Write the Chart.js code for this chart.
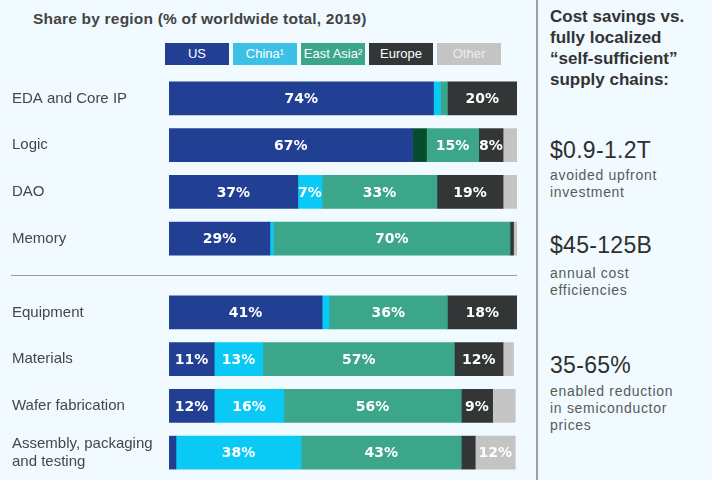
<!DOCTYPE html>
<html>
<head>
<meta charset="utf-8">
<script src="https://cdn.jsdelivr.net/npm/chart.js@4/dist/chart.umd.min.js"></script>
<style>
  body { margin: 0; background: #f0faff; font-family: "Liberation Sans", Arial, sans-serif; }
  #page { position: relative; width: 712px; height: 480px; overflow: hidden; background: #f0faff; }
  .title { position: absolute; left: 33px; top: 10px; font-size: 15.5px; font-weight: bold; color: #444; letter-spacing: 0.2px; }
  #legend { position: absolute; left: 165px; top: 43px; display: flex; gap: 4px; }
  #legend div { width: 64px; height: 22px; line-height: 22px; text-align: center; font-size: 13px; color: #fff; }
  canvas { position: absolute; }
  .divider { position: absolute; left: 11px; top: 275px; width: 506px; height: 1px; background: #9a9a9a; }
  .vline { position: absolute; left: 536px; top: 0; width: 2px; height: 480px; background: #a0a0a0; }
  .side { position: absolute; left: 550px; color: #333; }
  .side.head { top: 6px; font-size: 17px; font-weight: bold; line-height: 21px; color: #333; }
  .side.big { font-size: 23px; letter-spacing: 0.3px; color: #2f2f2f; }
  .side.small { font-size: 14px; line-height: 17px; letter-spacing: 0.7px; color: #5a5a5a; }
</style>
</head>
<body>
<div id="page">
  <div class="title">Share by region (% of worldwide total, 2019)</div>
  <div id="legend"></div>
  <canvas id="top" width="505" height="187" style="left:12px;top:75px"></canvas>
  <div class="divider"></div>
  <canvas id="bottom" width="505" height="187" style="left:12px;top:289px"></canvas>
  <div class="vline"></div>
  <div class="side head">Cost savings vs.<br>fully localized<br>“self-sufficient”<br>supply chains:</div>
  <div class="side big" style="top:137px">$0.9-1.2T</div>
  <div class="side small" style="top:167px">avoided upfront<br>investment</div>
  <div class="side big" style="top:232px">$45-125B</div>
  <div class="side small" style="top:265px">annual cost<br>efficiencies</div>
  <div class="side big" style="top:352px">35-65%</div>
  <div class="side small" style="top:383px">enabled reduction<br>in semiconductor<br>prices</div>
</div>
<script>
const categories = [
  "EDA and Core IP", "Logic", "DAO", "Memory",
  "Equipment", "Materials", "Wafer fabrication", ["Assembly, packaging", "and testing"]
];
const regions = ["US", "China¹", "East Asia²", "Europe", "Other"];

// bar widths (share of the full bar)
const usValues       = [76, 70, 37, 29, 44, 13, 13, 2];
const chinaValues    = [2, 4, 7, 1, 2, 14, 20, 36];
const eastAsiaValues = [2, 15, 33, 68, 34, 55, 51, 46];
const europeValues   = [20, 7, 19, 1, 20, 14, 9, 4];
const otherValues    = [0, 4, 4, 1, 0, 3, 6.5, 11.5];

// percentages printed on the bars
const usText       = ["74%", "67%", "37%", "29%", "41%", "11%", "12%", ""];
const chinaText    = ["", "", "7%", "", "", "13%", "16%", "38%"];
const eastAsiaText = ["", "15%", "33%", "70%", "36%", "57%", "56%", "43%"];
const europeText   = ["20%", "8%", "19%", "", "18%", "12%", "9%", ""];
const otherText    = ["", "", "", "", "", "", "", "12%"];

const barColors = ["#213f93", "#0bc9f5", "#3ca68a", "#323637", "#c4c4c4"];
const legendColors = ["#213f93", "#3dbfe6", "#3ca68a", "#323637", "#c4c4c4"];
const legendText = ["#fff", "#fff", "#fff", "#fff", "#ececec"];

const legend = document.getElementById("legend");
regions.forEach((r, i) => {
  const d = document.createElement("div");
  d.textContent = r;
  d.style.background = legendColors[i];
  d.style.color = legendText[i];
  legend.appendChild(d);
});

const barLabels = {
  id: "barLabels",
  afterDatasetsDraw(chart) {
    const ctx = chart.ctx;
    ctx.save();
    ctx.font = "bold 14px 'DejaVu Sans'";
    ctx.fillStyle = "#fff";
    ctx.textAlign = "center";
    ctx.textBaseline = "middle";
    chart.data.datasets.forEach((ds, i) => {
      chart.getDatasetMeta(i).data.forEach((bar, j) => {
        const t = ds.labelText[j];
        if (!t) return;
        ctx.fillText(t, (bar.x + bar.base) / 2, bar.y + 1);
      });
    });
    ctx.restore();
  }
};

const allValues = [usValues, chinaValues, eastAsiaValues, europeValues, otherValues];
const allText = [usText, chinaText, eastAsiaText, europeText, otherText];

function makeChart(id, from, to) {
  new Chart(document.getElementById(id), {
    type: "bar",
    data: {
      labels: categories.slice(from, to),
      datasets: regions.map((r, i) => ({
        label: r,
        data: allValues[i].slice(from, to),
        labelText: allText[i].slice(from, to),
        backgroundColor: i === 1
          ? categories.slice(from, to).map(c => c === "Logic" ? "#054d2c" : barColors[1])
          : barColors[i],
        borderWidth: 0,
        barThickness: 33
      }))
    },
    options: {
      indexAxis: "y",
      responsive: false,
      animation: false,
      layout: { padding: 0 },
      plugins: { legend: { display: false }, tooltip: { enabled: false } },
      scales: {
        x: { stacked: true, min: 0, max: 100, display: false },
        y: {
          stacked: true,
          grid: { display: false },
          border: { display: false },
          afterFit: (scale) => {
            scale.width = 157;
            scale.paddingTop = 0;
            scale.paddingBottom = 0;
          },
          ticks: {
            crossAlign: "far",
            padding: 0,
            color: "#474747",
            font: { family: "'Liberation Sans', Arial, sans-serif", size: 15, lineHeight: 1.2 }
          }
        }
      }
    },
    plugins: [barLabels]
  });
}

makeChart("top", 0, 4);
makeChart("bottom", 4, 8);
</script>
</body>
</html>
